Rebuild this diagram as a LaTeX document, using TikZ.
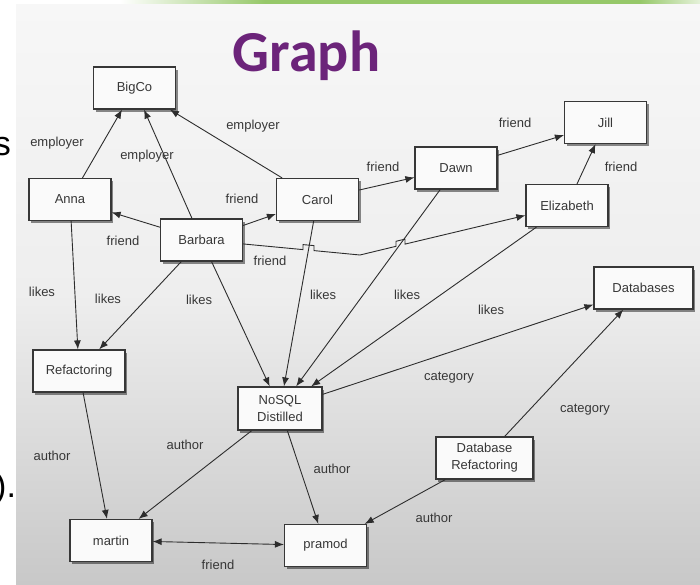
\documentclass[tikz,border=0pt]{standalone}
\usepackage{fontspec}
\setmainfont{Liberation Sans}
\newfontfamily\titlefont{Carlito}
\usetikzlibrary{arrows.meta,shadows}
\definecolor{edge}{RGB}{45,45,45}
\definecolor{txt}{RGB}{55,55,55}
\definecolor{boxline}{RGB}{55,55,55}
\definecolor{boxfill}{RGB}{250,250,250}
\definecolor{titlepurple}{RGB}{108,36,122}
\definecolor{bargreen}{RGB}{150,200,105}
\definecolor{slidetop}{RGB}{247,247,247}
\definecolor{slidemid}{RGB}{238,238,238}
\definecolor{slidebot}{RGB}{200,200,200}
\tikzset{>={Latex[length=9pt,width=7pt]}}
\tikzset{
  item/.style={draw=boxline,line width=1.2pt,fill=boxfill,minimum width=82pt,
    minimum height=42pt,inner sep=0pt,align=center,text=txt,
    font=\fontsize{13}{17}\selectfont,
    drop shadow={shadow xshift=2pt,shadow yshift=-2.5pt,opacity=.45,fill=black}},
  lbl/.style={text=txt,font=\fontsize{13}{15}\selectfont,inner sep=0pt},
  rel/.style={draw=edge,line width=.9pt,->},
}

\begin{document}
\begin{tikzpicture}[x=1pt,y=-1pt]
\useasboundingbox (0,0) rectangle (700,584);
\fill[white] (0,0) rectangle (700,584);
\node[anchor=base east,inner sep=0pt,font=\fontsize{34}{34}\selectfont] (frag1) at (11,155) {s};
\node[anchor=base west,inner sep=0pt,font=\fontsize{34}{34}\selectfont] (frag2) at (-5,497) {).};
\shade[left color=white,right color=bargreen] (120,0) rectangle (265,4);
\fill[bargreen] (265,0) rectangle (640,4);
\shade[left color=bargreen,right color=bargreen!25] (640,0) rectangle (700,4);
\shade[top color=slidetop,bottom color=slidebot,middle color=slidemid] (16,4) rectangle (700,584);

\node[font=\titlefont\bfseries\fontsize{58}{60}\selectfont,text=titlepurple,anchor=base] (title) at (306.5,71) {Graph};

\node[item] (BigCo) at (134.5,88) {BigCo};
\node[item] (Anna) at (70,199.5) {Anna};
\node[item] (Barbara) at (201.5,240) {Barbara};
\node[item] (Carol) at (317.5,199.5) {Carol};
\node[item] (Dawn) at (456,168) {Dawn};
\node[item] (Jill) at (605.5,122.5) {Jill};
\node[item] (Elizabeth) at (567,205.5) {Elizabeth};
\node[item,minimum width=99pt] (Databases) at (643.5,288) {Databases};
\node[item,minimum width=92pt] (Refactoring) at (79,371) {Refactoring};
\node[item,minimum width=84pt,minimum height=43pt] (NoSQL) at (280,408.5) {NoSQL\\Distilled};
\node[item,minimum width=97pt] (DBRef) at (484.5,458) {Database\\Refactoring};
\node[item] (martin) at (111,540.5) {martin};
\node[item] (pramod) at (325.5,545.5) {pramod};

\foreach \a/\b in {Anna/BigCo,Barbara/BigCo,Carol/BigCo,Barbara/Anna,Barbara/Carol,
    Carol/Dawn,Dawn/Jill,Elizabeth/Jill,Anna/Refactoring,Barbara/Refactoring,
    Barbara/NoSQL,Carol/NoSQL,Dawn/NoSQL,Elizabeth/NoSQL,NoSQL/Databases,
    DBRef/Databases,Refactoring/martin,NoSQL/martin,NoSQL/pramod,DBRef/pramod}
  \draw[rel] (\a) -- (\b);
\draw[rel,<->] (martin) -- (pramod);

% friend link hops over two likes lines
\coordinate (bend) at (360,255);
\draw[rel] (Barbara) -- (303,249.6) -- ++(0,-5) -- (314,245.6) -- ++(0,5) -- (bend)
  -- (396,246.3) -- ++(0,-5) -- (405,239.1) -- ++(0,5) -- (Elizabeth);

\foreach \n/\t/\x/\y in {e1/employer/57/143,e2/employer/147/156,e3/employer/253/126,
    f1/friend/123/241,f2/friend/242/199,f3/friend/270/261,f4/friend/383/167,
    f5/friend/515/123,f6/friend/621/167,f7/friend/218/565,
    k1/likes/42/292,k2/likes/108/299,k3/likes/199/300,k4/likes/323/295,
    k5/likes/407/295,k6/likes/491/310,c1/category/449/378,c2/category/585/410,
    a1/author/52/456,a2/author/185/445,a3/author/332/469,a4/author/434/518}
  \node[lbl] (\n) at (\x,\y) {\t};
\end{tikzpicture}
\end{document}
